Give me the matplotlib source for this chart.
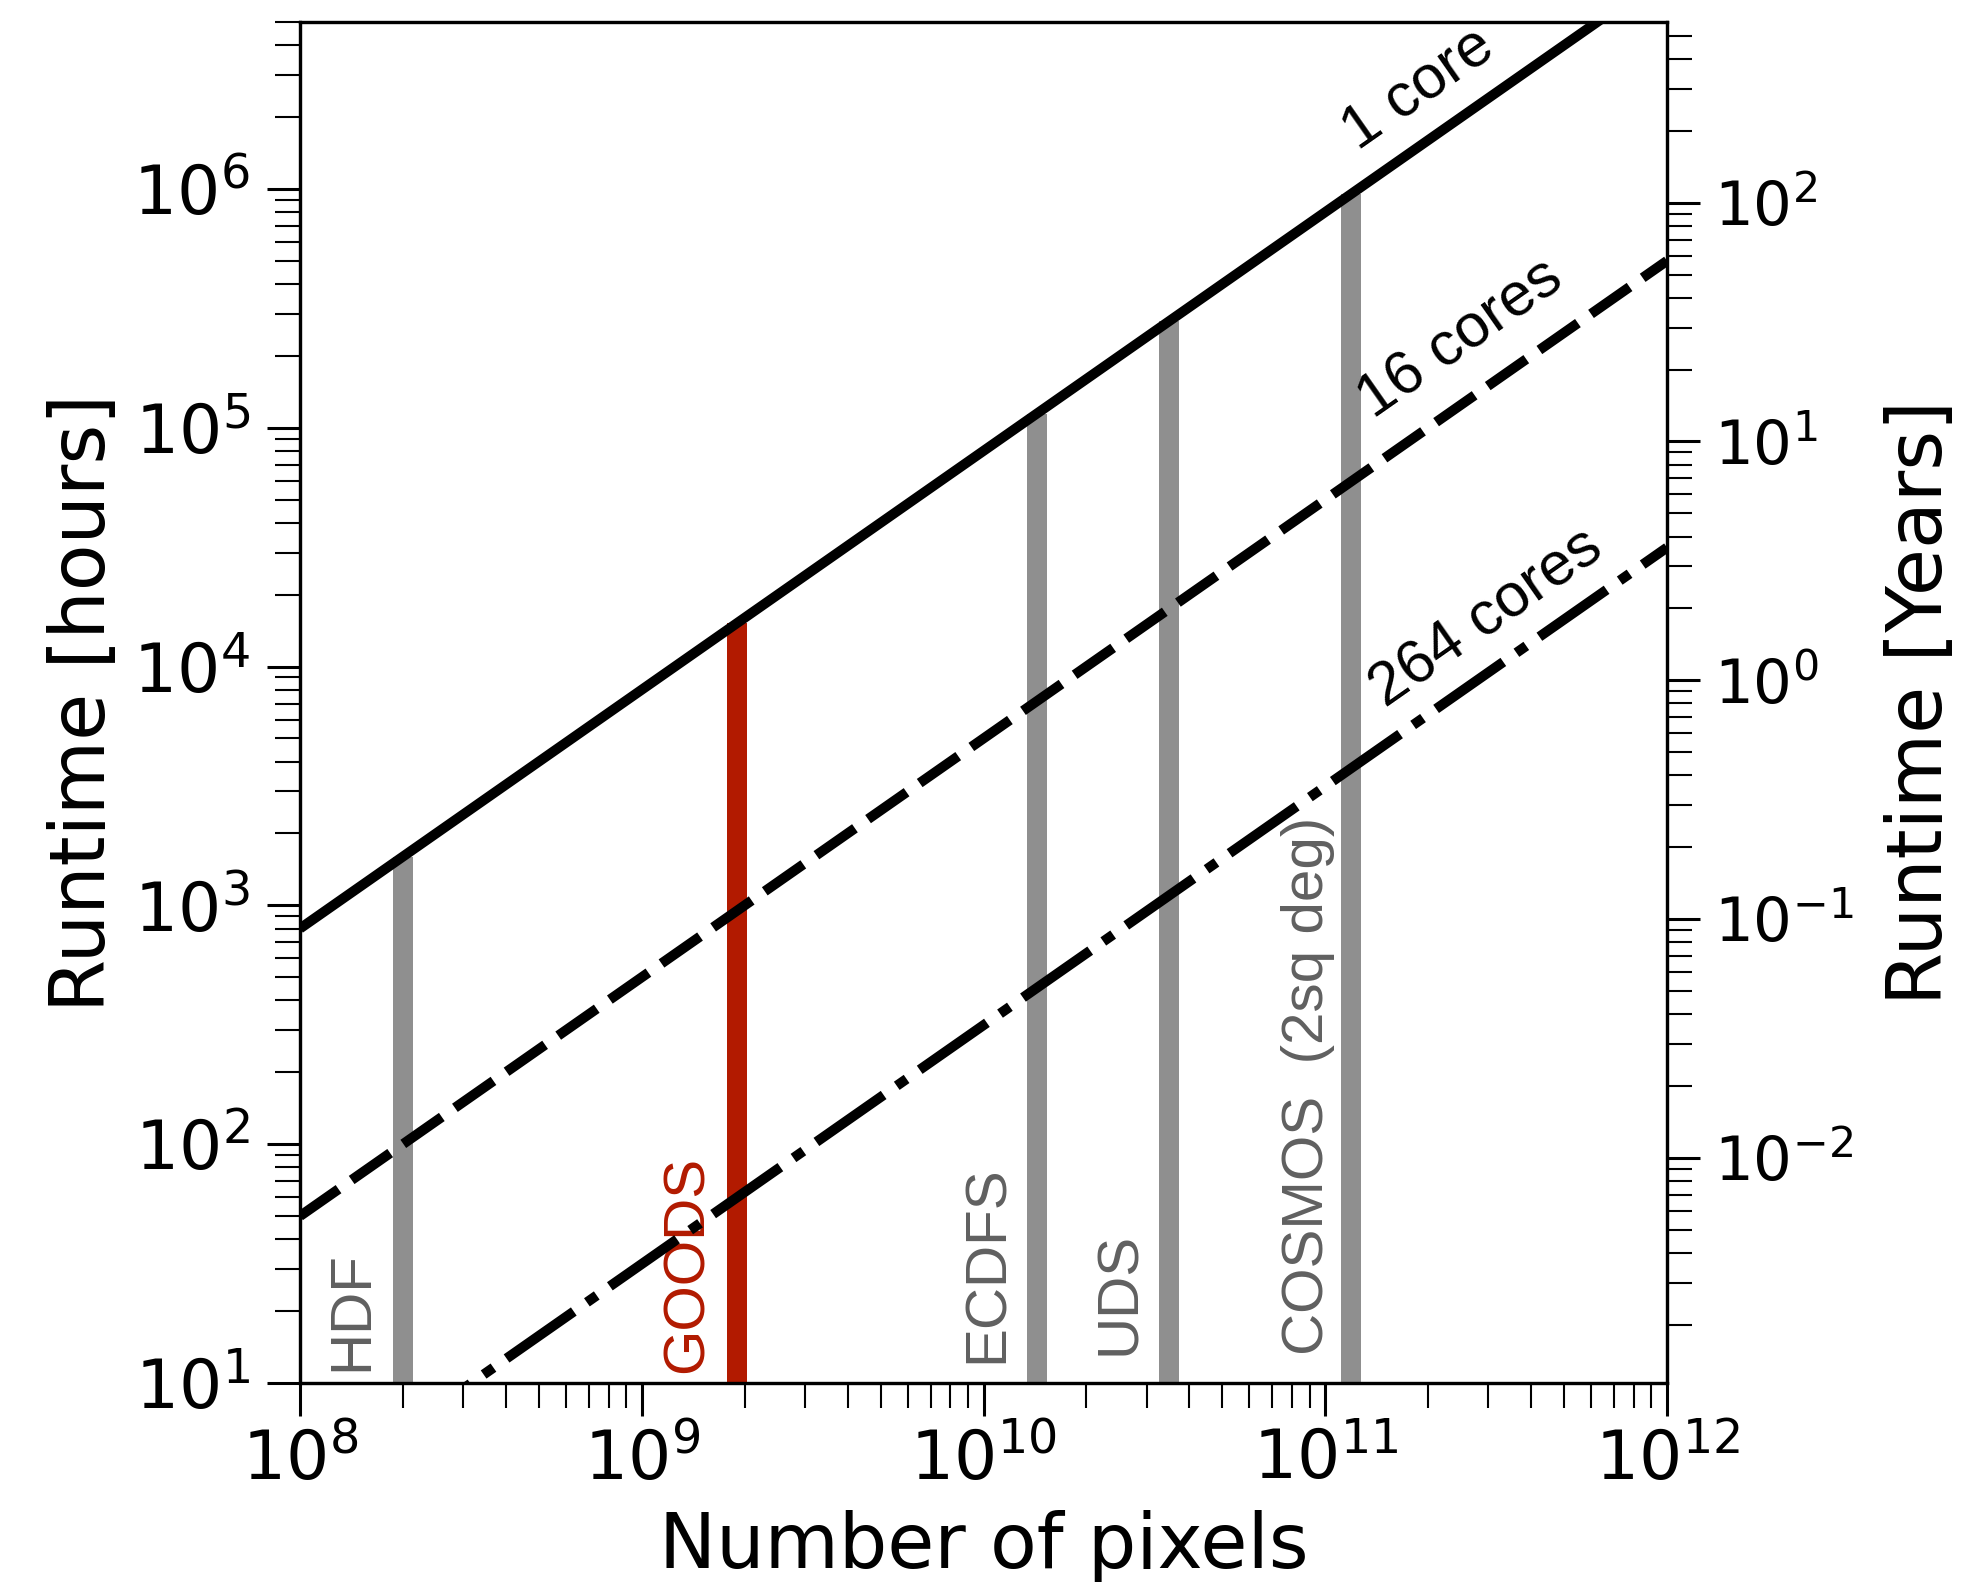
import matplotlib
matplotlib.use('Agg')
import matplotlib.pyplot as plt
from matplotlib.ticker import LogLocator, NullFormatter

# runtime vs image size
pix_range = [1e8, 1e12]
runtime_1core = [800, 8e6]
runtime_16core = [50, 5e5]
runtime_264core = [3.15, 3.15e4]

line_labels = ['1 core', '16 cores', '264 cores']
label_x = [1.88e11, 2.49e11, 2.97e11]
label_y = [2.61e6, 2.34e5, 1.58e4]

survey_names = ['HDF', 'GOODS', 'ECDFS', 'UDS', 'COSMOS  (2sq deg)']
survey_pixels = [2e8, 1.9e9, 1.43e10, 3.5e10, 1.19e11]
survey_tops = [1600, 15200, 1.14e5, 2.8e5, 9.5e5]
survey_colors = ['#8f8f8f', '#b21a00', '#8f8f8f', '#8f8f8f', '#8f8f8f']
survey_text_colors = ['#606060', '#b21a00', '#606060', '#606060', '#606060']
# label offsets (pixels) from the foot of each bar
label_dx = [-24, -22, -22, -22, -16]
label_dy = [12, 10, 20, 28, 28]

hours_per_year = 8760.0
ylim_hours = (10, 5e6)

fig = plt.figure(figsize=(19.83, 15.82), dpi=100)
ax = fig.add_axes([0.15129, 0.12579, 0.68936, 0.86030])

for x, top, c in zip(survey_pixels, survey_tops, survey_colors):
    ax.vlines(x, ylim_hours[0], top, color=c, lw=14.4, zorder=1)

for x, name, tc, dx, dy in zip(survey_pixels, survey_names, survey_text_colors,
                               label_dx, label_dy):
    ax.annotate(name, xy=(x, ylim_hours[0]), xytext=(dx, dy),
                textcoords='offset pixels', rotation=90, ha='right', va='bottom',
                fontsize=42, color=tc, family='Liberation Sans')

lw = 7.2
ax.plot(pix_range, runtime_1core, color='k', lw=lw, solid_capstyle='butt', zorder=3)
ax.plot(pix_range, runtime_16core, color='k', lw=lw, dashes=(4.7, 1.6),
        dash_capstyle='butt', zorder=3)
ax.plot(pix_range, runtime_264core, color='k', lw=lw, dashes=(8.2, 1.6, 1.2, 1.6),
        dash_capstyle='butt', zorder=3)

for x, y, s in zip(label_x, label_y, line_labels):
    ax.text(x, y, s, rotation=35, rotation_mode='anchor', ha='center', va='center',
            fontsize=44, family='Liberation Sans', color='k', zorder=4)

ax.set_xscale('log')
ax.set_yscale('log')
ax.set_xlim(pix_range)
ax.set_ylim(ylim_hours)

ax2 = ax.twinx()
ax2.set_yscale('log')
ax2.set_ylim(ylim_hours[0] / hours_per_year, ylim_hours[1] / hours_per_year)

for a in (ax, ax2):
    for sp in a.spines.values():
        sp.set_linewidth(2.3)
    a.tick_params(which='major', length=24, width=2.2)
    a.tick_params(which='minor', length=18, width=1.5)
ax.tick_params(which='major', labelsize=49)
ax.tick_params(axis='y', pad=12)
ax.tick_params(axis='x', pad=8)
ax2.tick_params(which='major', labelsize=44, pad=10)
ax.yaxis.set_minor_locator(LogLocator(base=10, subs=range(2, 10), numticks=20))
ax.yaxis.set_minor_formatter(NullFormatter())
ax2.yaxis.set_minor_locator(LogLocator(base=10, subs=range(2, 10), numticks=20))
ax2.yaxis.set_minor_formatter(NullFormatter())
ax.xaxis.set_major_locator(LogLocator(base=10, numticks=10))
ax.xaxis.set_minor_locator(LogLocator(base=10, subs=range(2, 10), numticks=20))
ax.xaxis.set_minor_formatter(NullFormatter())

ax.set_xlabel('Number of pixels', fontsize=55)
ax.set_ylabel('Runtime [hours]', fontsize=55)
ax2.set_ylabel('Runtime [Years]', fontsize=55)
ax.xaxis.set_label_coords(0.5, -0.093)
ax.yaxis.set_label_coords(-0.131, 0.5)
ax2.yaxis.set_label_coords(1.159, 0.5)

fig.savefig('out.png', dpi=100)
